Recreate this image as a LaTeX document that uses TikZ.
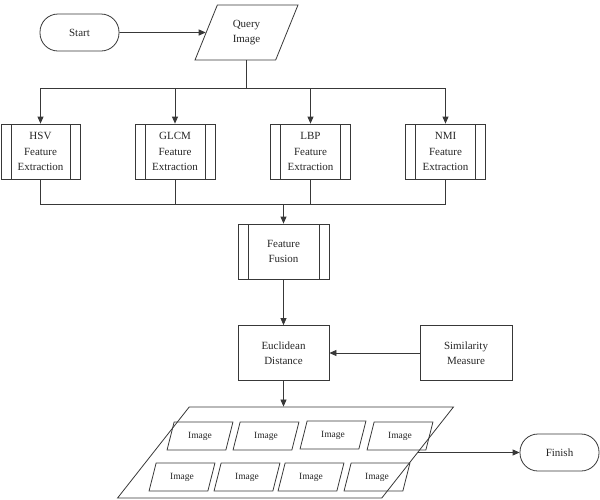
\documentclass[tikz,border=0pt]{standalone}
\usepackage{fontspec}
\setmainfont{Liberation Serif}
\usetikzlibrary{shapes.geometric,arrows.meta,calc}
\begin{document}
\begin{tikzpicture}[x=1pt,y=-1pt,
  every node/.style={font=\fontsize{11}{15.5}\selectfont, text=black!85, align=center, inner sep=0pt},
  ln/.style={draw=black!78, line width=0.8pt},
  arr/.style={ln, -{Triangle[length=7pt,width=6pt]}},
  term/.style={ln, rectangle, rounded corners=18pt, minimum width=79pt, minimum height=37pt},
  proc/.style={ln, rectangle, minimum width=#1, minimum height=55pt},
  predef/.style={proc=#1, path picture={\draw[black!78, line width=0.8pt]
     ([xshift=10pt]path picture bounding box.north west) -- ([xshift=10pt]path picture bounding box.south west)
     ([xshift=-10pt]path picture bounding box.north east) -- ([xshift=-10pt]path picture bounding box.south east);}},
  para/.style={ln, trapezium, trapezium left angle=#1, trapezium right angle={180-#1}, trapezium stretches=true},
  small/.style={para=68.5, minimum width=66pt, minimum height=28pt, font=\fontsize{9.5}{11}\selectfont}
]
\useasboundingbox (0,0) rectangle (600,499);

\node[term] (start) at (79.5,32.5) {Start};
\node[para=67.3, minimum width=103pt, minimum height=55pt] (query) at (246.5,32.5) {Query\\Image};

\node[predef=79pt] (hsv) at (40.5,151.5) {HSV\\Feature\\Extraction};
\node[predef=80pt] (glcm) at (175,151.5) {GLCM\\Feature\\Extraction};
\node[predef=80pt] (lbp) at (310.5,151.5) {LBP\\Feature\\Extraction};
\node[predef=80pt] (nmi) at (445.5,151.5) {NMI\\Feature\\Extraction};

\node[predef=91pt] (fusion) at (283.5,251.5) {Feature\\Fusion};
\node[proc=91pt] (eucl) at (283.5,353) {Euclidean\\Distance};
\node[proc=92pt] (sim) at (466,353) {Similarity\\Measure};

\node[para=63.2, minimum width=336pt, minimum height=91pt] (big) at (285.5,452.5) {\phantom{M}};
\node[term] (finish) at (559.5,452.5) {Finish};

\node[small] (i1) at (200,436) {Image};
\node[small] (i2) at (266,436) {Image};
\node[small] (i3) at (333,435) {Image};
\node[small] (i4) at (400,436) {Image};
\node[small] (i5) at (182,477) {Image};
\node[small] (i6) at (247,477) {Image};
\node[small] (i7) at (311,477) {Image};
\node[small] (i8) at (377,477) {Image};

\draw[arr] (start) -- (query);

\coordinate (split) at ($(query.south)+(0,28)$);
\draw[ln] (query.south) -- (split);
\draw[arr] (split) -| (hsv.north);
\draw[arr] (split) -| (glcm.north);
\draw[arr] (split) -| (lbp.north);
\draw[arr] (split) -| (nmi.north);

\coordinate (join) at ($(fusion.north)+(0,-19)$);
\draw[ln] (hsv.south) |- (join);
\draw[ln] (glcm.south) |- (join);
\draw[ln] (lbp.south) |- (join);
\draw[ln] (nmi.south) |- (join);
\draw[arr] (join) -- (fusion.north);

\draw[arr] (fusion) -- (eucl);
\draw[arr] (sim) -- (eucl);
\draw[arr] (eucl.south) -- (eucl.south |- big.north);
\draw[arr] (big.east) -- (big.east -| finish.west);
\end{tikzpicture}
\end{document}
